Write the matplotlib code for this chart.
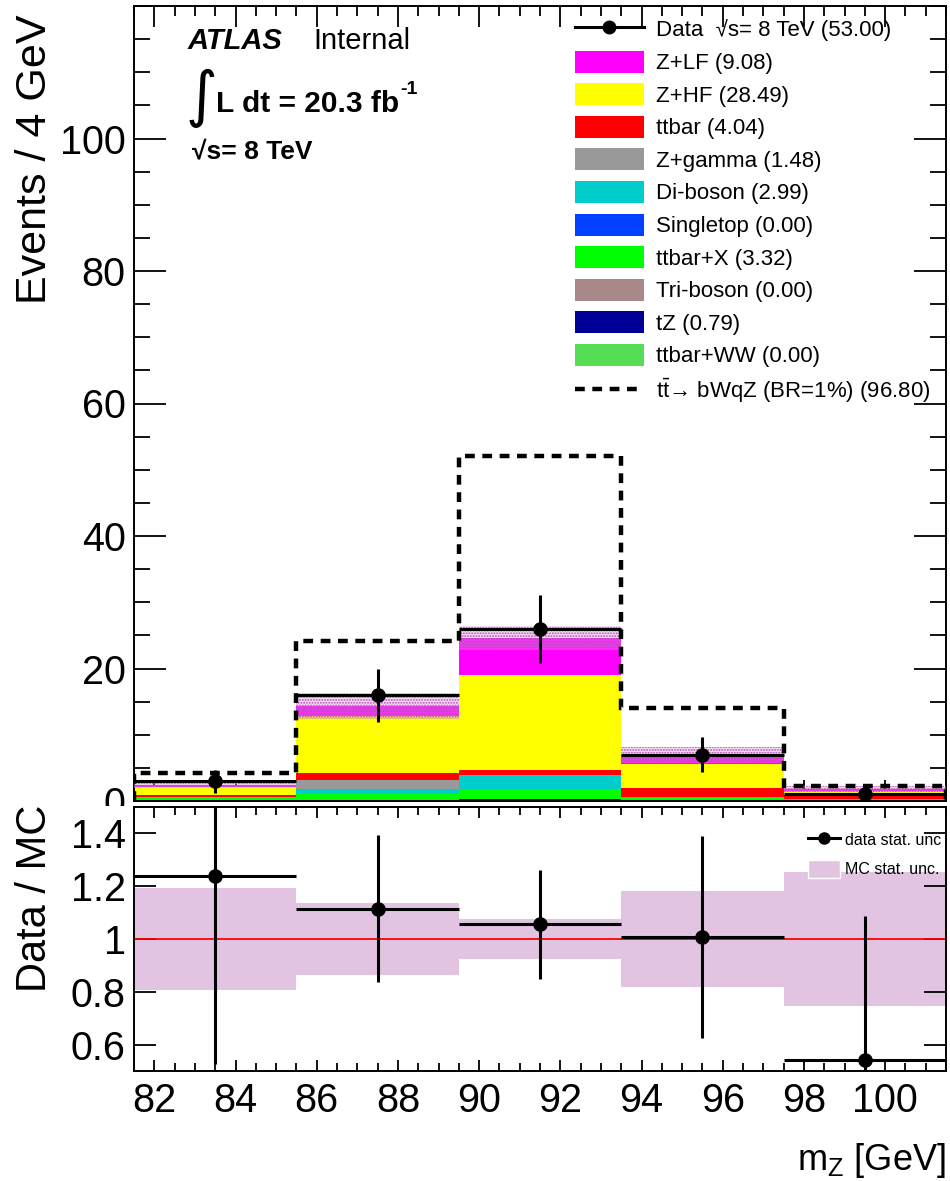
import matplotlib
matplotlib.use("Agg")
import matplotlib.pyplot as plt
from matplotlib.patches import Patch
from matplotlib.lines import Line2D
from matplotlib.transforms import Bbox
from matplotlib.ticker import MultipleLocator, FixedLocator, FuncFormatter
import numpy as np

plt.rcParams["font.family"] = ["Liberation Sans", "DejaVu Sans"]
plt.rcParams["mathtext.fontset"] = "custom"
plt.rcParams["mathtext.rm"] = "Liberation Sans"
plt.rcParams["mathtext.it"] = "Liberation Sans:italic"
plt.rcParams["mathtext.bf"] = "Liberation Sans:bold"
plt.rcParams["hatch.linewidth"] = 0.9

# m_Z binning (4 GeV bins)
bin_edges = [81.5, 85.5, 89.5, 93.5, 97.5, 101.5]

# expected events per bin for each background
ttbar_ww = [0.0, 0.0, 0.0, 0.0, 0.0]
tz = [0.10, 0.20, 0.30, 0.10, 0.09]
triboson = [0.0, 0.0, 0.0, 0.0, 0.0]
ttbar_x = [0.30, 0.90, 1.50, 0.40, 0.22]
singletop = [0.0, 0.0, 0.0, 0.0, 0.0]
diboson = [0.05, 0.70, 2.10, 0.10, 0.04]
z_gamma = [0.10, 1.30, 0.08, 0.0, 0.0]
ttbar = [0.30, 1.20, 0.70, 1.35, 0.49]
z_hf = [1.25, 8.60, 14.35, 3.60, 0.69]
z_lf = [0.32, 1.45, 5.60, 1.40, 0.31]

# relative MC statistical uncertainty per bin
mc_stat_unc = [0.195, 0.135, 0.075, 0.18, 0.255]

data = [3, 16, 26, 7, 1]
data_err = [1.73, 4.0, 5.1, 2.65, 1.0]

# signal: tt -> bWqZ with BR = 1%
signal = [4.3, 24.1, 52.1, 14.1, 2.2]

# stacking order, bottom first
stack = [
    ("ttbar+WW", ttbar_ww, "#55dd55"),
    ("tZ", tz, "#000099"),
    ("Tri-boson", triboson, "#a88888"),
    ("ttbar+X", ttbar_x, "#00ff00"),
    ("Singletop", singletop, "#0040ff"),
    ("Di-boson", diboson, "#00cccc"),
    ("Z+gamma", z_gamma, "#999999"),
    ("ttbar", ttbar, "#ff0000"),
    ("Z+HF", z_hf, "#ffff00"),
    ("Z+LF", z_lf, "#ff00ff"),
]

edges = np.array(bin_edges)
centers = 0.5 * (edges[1:] + edges[:-1])
widths = np.diff(edges)
data = np.array(data, dtype=float)
data_err = np.array(data_err)
unc = np.array(mc_stat_unc)

W, H = 950, 1181
fig = plt.figure(figsize=(W / 100, H / 100), dpi=100)
ax = fig.add_axes([134 / W, 1 - 801 / H, (946 - 134) / W, (801 - 6) / H])
rax = fig.add_axes([134 / W, 1 - 1071 / H, (946 - 134) / W, (1071 - 807) / H])

# stacked backgrounds
bottom = np.zeros(len(centers))
for name, vals, col in stack:
    vals = np.array(vals)
    ax.bar(centers, vals, width=widths, bottom=bottom, color=col, linewidth=0, zorder=2)
    bottom = bottom + vals
total = bottom

# MC stat. band on top of the stack
ax.bar(centers, 2 * unc * total, width=widths, bottom=total * (1 - unc),
       facecolor=(0.88, 0.6, 0.88, 0.35), edgecolor="#b050b0", hatch="......",
       linewidth=0, zorder=3)

sig_dash = (0, (2.2, 1.7))
ax.stairs(signal, edges, color="black", linestyle=sig_dash, linewidth=3.2, zorder=4)

ax.errorbar(centers, data, yerr=data_err, xerr=widths / 2, fmt="o", color="black",
            markersize=9.5, elinewidth=2.2, capsize=0, zorder=5)

ax.set_xlim(edges[0], edges[-1])
ax.set_ylim(0, 120)
ax.yaxis.set_major_locator(FixedLocator([0, 20, 40, 60, 80, 100]))
ax.yaxis.set_minor_locator(MultipleLocator(5))
ax.xaxis.set_major_locator(MultipleLocator(2))
ax.xaxis.set_minor_locator(MultipleLocator(0.5))
ax.tick_params(which="both", direction="in", top=True, right=True, width=1.3)
ax.tick_params(axis="y", which="major", length=23, labelsize=28.5, pad=6)
ax.tick_params(axis="y", which="minor", length=11.5)
ax.tick_params(axis="x", which="major", length=15, labelbottom=False)
ax.tick_params(axis="x", which="minor", length=7.5)
for s in ax.spines.values():
    s.set_linewidth(1.4)

# the "0" label runs into the ratio panel: cut it at the panel's top edge
fig.canvas.draw()
for lbl in ax.get_yticklabels():
    if lbl.get_text() == "0":
        lbl.set_clip_box(Bbox.from_extents(0, 1 - 806 / H, 134 / W, 1).transformed(fig.transFigure))
        lbl.set_clip_on(True)

# legend
handles = [Line2D([], [], color="black", marker="o", markersize=9, linewidth=2.2)]
labels = ["Data  \u221as= 8 TeV (%.2f)" % data.sum()]
for name, vals, col in stack[::-1]:
    handles.append(Patch(facecolor=col, edgecolor="none"))
    labels.append("%s (%.2f)" % (name, sum(vals)))
handles.append(Line2D([], [], color="black", linestyle=sig_dash, linewidth=3.2))
labels.append(r"$\mathrm{t\bar{t}}$" + "\u2192 bWqZ (BR=1%%) (%.2f)" % sum(signal))
ax.legend(handles, labels, loc="upper left", bbox_to_anchor=(575 / W, 1 - 18 / H),
          bbox_transform=fig.transFigure, frameon=False, fontsize=16,
          handlelength=3.1, handleheight=1.14, labelspacing=0.41,
          handletextpad=0.55, borderpad=0, borderaxespad=0)

# ATLAS labels
fig.text(188 / W, 1 - 49 / H, "ATLAS", fontsize=21, fontweight="bold", fontstyle="italic")
fig.text(313 / W, 1 - 49 / H, "Internal", fontsize=21)
fig.text(186 / W, 1 - 98 / H, "\u222b", fontsize=44, va="center", family="DejaVu Sans")
lumi = fig.text(216 / W, 1 - 112 / H, "L dt = 20.3 fb", fontsize=21.5, fontweight="bold")
ax.annotate("-1", xy=(1, 1), xycoords=lumi, xytext=(1, -6), textcoords="offset points",
            fontsize=14, fontweight="bold", va="bottom")
fig.text(192 / W, 1 - 158 / H, "\u221as= 8 TeV", fontsize=19, fontweight="bold")

fig.text(35 / W, 1 - 14 / H, "Events / 4 GeV", fontsize=31, rotation=90, ha="center", va="top")

# ratio panel
ratio = data / total
ratio_err = data_err / total
rax.bar(centers, 2 * unc, width=widths, bottom=1 - unc, color="#e2c4e2", linewidth=0, zorder=1)
rax.axhline(1, color="red", linewidth=1.3, zorder=2)
rax.errorbar(centers, ratio, yerr=ratio_err, xerr=widths / 2, fmt="o", color="black",
             markersize=9.5, elinewidth=2.2, capsize=0, zorder=3)
rax.set_xlim(edges[0], edges[-1])
rax.set_ylim(0.5, 1.5)
rax.yaxis.set_major_locator(FixedLocator([0.6, 0.8, 1.0, 1.2, 1.4]))
rax.yaxis.set_major_formatter(FuncFormatter(lambda v, p: "%g" % round(v, 2)))
rax.xaxis.set_major_locator(MultipleLocator(2))
rax.xaxis.set_minor_locator(MultipleLocator(0.5))
rax.xaxis.set_major_formatter(FuncFormatter(lambda v, p: "%d" % v))
rax.tick_params(which="both", direction="in", top=True, right=True, width=1.3, labelsize=28.5)
rax.tick_params(axis="y", which="major", length=16, pad=6)
rax.tick_params(axis="x", which="major", length=8, pad=8)
rax.tick_params(axis="x", which="minor", length=6)
for s in rax.spines.values():
    s.set_linewidth(1.4)

rhandles = [Line2D([], [], color="black", marker="o", markersize=8, linewidth=2.2),
            Patch(facecolor="#e2c4e2", edgecolor="#ffffff")]
rax.legend(rhandles, ["data stat. unc", "MC stat. unc."], loc="upper left",
           bbox_to_anchor=(808 / W, 1 - 831 / H), bbox_transform=fig.transFigure,
           frameon=False, fontsize=11.5, handlelength=2.0, handleheight=1.3,
           labelspacing=0.75, handletextpad=0.3, borderpad=0, borderaxespad=0)

fig.text(35 / W, 1 - 805 / H, "Data / MC", fontsize=30, rotation=90, ha="center", va="top")
fig.text(946 / W, 1 - 1170 / H, r"m$_{\mathrm{Z}}$ [GeV]", fontsize=26, ha="right", va="baseline")

fig.savefig("out.png", dpi=100)
